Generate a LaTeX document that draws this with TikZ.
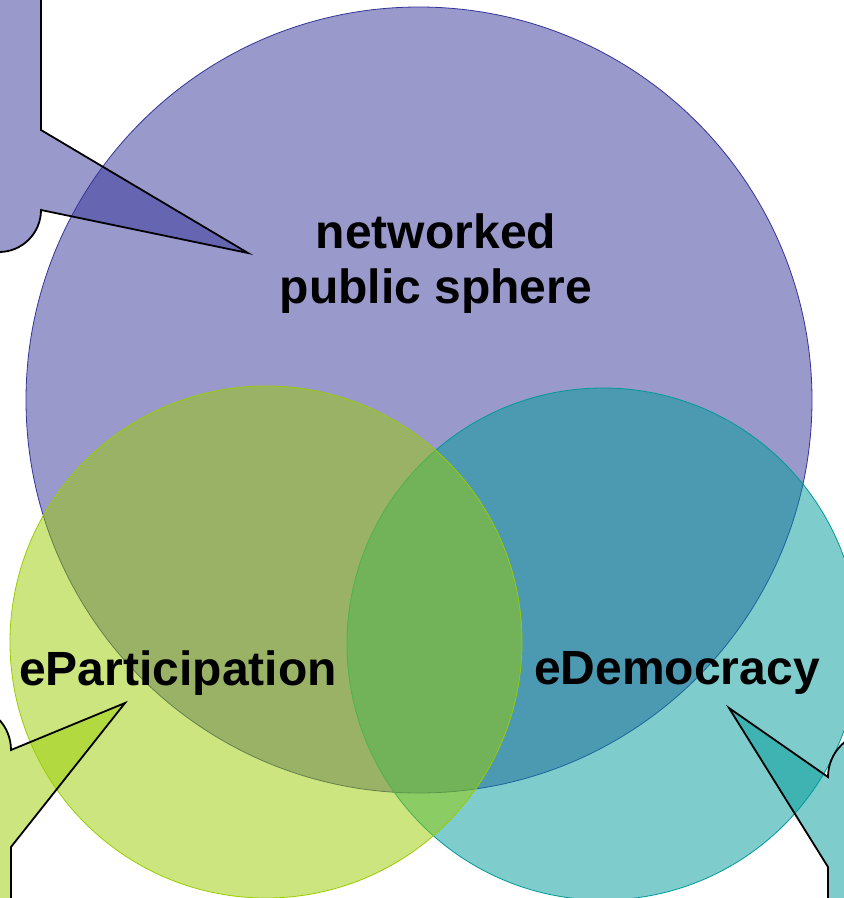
\documentclass[tikz,border=0pt]{standalone}
\usepackage{fontspec}
\setmainfont{Liberation Sans}
\begin{document}
\begin{tikzpicture}[x=1pt,y=-1pt,line join=miter]
  % Colors
  \definecolor{spherecol}{RGB}{51,51,153}
  \definecolor{partcol}{RGB}{153,204,0}
  \definecolor{democol}{RGB}{0,153,153}

  % Styles
  \tikzstyle{venn}=[fill opacity=0.5,line width=0.8pt]
  \tikzstyle{callout}=[draw=black,line width=1.8pt,fill opacity=0.5]
  \tikzstyle{vennlabel}=[font=\fontsize{48}{55}\selectfont\bfseries,align=center,anchor=base]

  % The graphic
  \useasboundingbox (0,0) rectangle (844,898);
  \clip (0,0) rectangle (844,898);

  \draw[venn,fill=spherecol,draw=spherecol] (419,400) circle (393);
  \draw[venn,fill=democol,draw=democol] (603,644) circle (256);
  \draw[venn,fill=partcol,draw=partcol] (266,642) circle (256);

  % callouts, mostly off the page
  \draw[callout,fill=spherecol]
    (41,-20) -- (41,130) -- (248,253) -- (41,210) arc (0:90:42)
    -- (-20,252) -- (-20,-20) -- cycle;
  \draw[callout,fill=partcol]
    (-60,705) -- (-34,705) arc (-90:0:45) -- (125,703) -- (11,847)
    -- (11,920) -- (-60,920) -- cycle;
  \draw[callout,fill=democol]
    (729,708) -- (828,777) arc (180:270:45) -- (900,732)
    -- (900,920) -- (828,920) -- (828,867) -- cycle;

  \node[vennlabel] (sphere) at (436,303) {networked\\public sphere};
  \node[vennlabel] (part) at (178,685) {eParticipation};
  \node[vennlabel] (demo) at (677,684) {eDemocracy};
\end{tikzpicture}
\end{document}
